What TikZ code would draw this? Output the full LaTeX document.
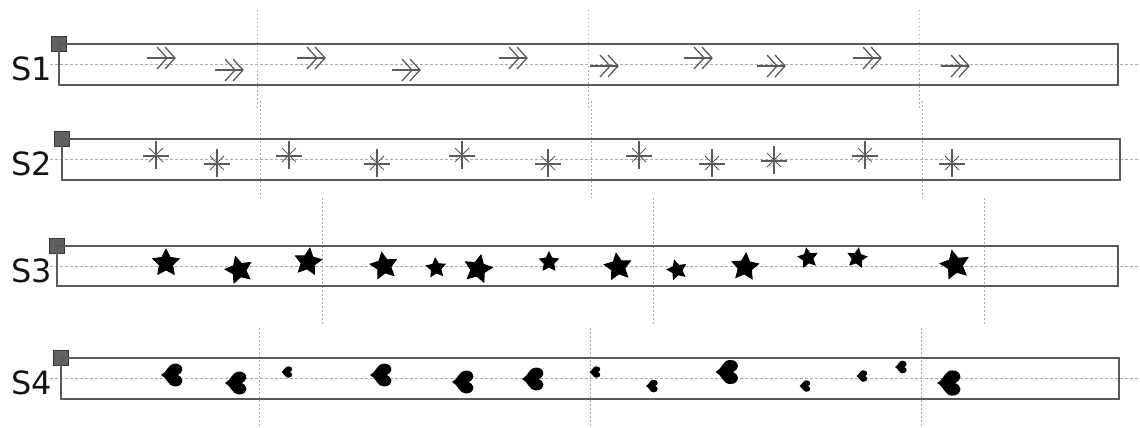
\documentclass[tikz,border=0pt]{standalone}
\usepackage{fontspec}
\setmainfont{DejaVu Sans}
\usetikzlibrary{shapes.geometric}
\definecolor{cline}{HTML}{5A5A5A}
\definecolor{cgrid}{HTML}{ABABAB}
\tikzset{
  lane/.style={draw=cline, line width=1.2pt},
  vgrid/.style={draw=cgrid, line width=0.9pt, dash pattern=on 1.5pt off 2.5pt},
  hgrid/.style={draw=cgrid, line width=0.9pt, dash pattern=on 3pt off 2pt},
  corner/.style={draw=black!78, fill=black!62, line width=0.8pt, minimum size=15pt, inner sep=0pt},
  lbl/.style={font=\fontsize{32}{38}\selectfont, text=black!92, anchor=base east, inner sep=0pt},
  ink/.style={draw=cline, line width=1.3pt},
  starmark/.style={star, star points=5, star point ratio=2.0, fill=black, draw=black, line width=0.8pt, inner sep=0pt, minimum size=#1},
  pics/dart/.style={code={
    \draw[ink] (-14,0) -- (14,0);
    \draw[ink] (-4,-11) -- (6,0) -- (-4,11);
    \draw[ink] (4,-11) -- (14,0) -- (4,11);}},
  pics/spark/.style={code={
    \draw[ink] (0,-14) -- (0,14) (-13,1) -- (13,1);
    \draw[ink, line width=1pt] (-7,-7) -- (7,7) (-7,7) -- (7,-7);}},
  pics/heartmark/.style={code={
    \fill[black, scale=#1*1.15] (-0.95,0) .. controls (-0.4,-0.25) and (-0.35,-1) .. (0.25,-1)
      .. controls (0.7,-1) and (0.9,-0.75) .. (0.9,-0.45)
      .. controls (0.9,-0.2) and (0.65,-0.1) .. (0.5,0)
      .. controls (0.65,0.1) and (0.9,0.2) .. (0.9,0.45)
      .. controls (0.9,0.75) and (0.7,1) .. (0.25,1)
      .. controls (-0.35,1) and (-0.4,0.25) .. (-0.95,0) -- cycle;}},
}
\begin{document}
\begin{tikzpicture}[x=1pt, y=-1pt]
  \useasboundingbox (0,0) rectangle (1140,428);
  % lanes: number / left / top / bottom / right / first grid line / grid from / grid to
  \foreach \n/\xa/\ya/\yb/\xb/\g/\ga/\gb in {1/59/44/85/1118/257/10/108, 2/62/139/180/1120/260/101/198,
      3/57/246/286/1118/322/198/325, 4/61/358/399/1119/259/328/428}{
    \pgfmathsetmacro\m{(\ya+\yb)/2}
    \foreach \k in {0,1,2}
      \draw[vgrid] ({\g+331*\k},\ga) -- ({\g+331*\k},\gb);
    \draw[hgrid] (50,\m) -- (1140,\m);
    \node[corner] (cor\n) at (\xa,\ya) {};
    \draw[lane] (\xa,\ya) rectangle (\xb,\yb);
    \node[lbl] (lab\n) at (52,\m+16) {S\n};
  }
  % S1
  \foreach \x/\y in {161/58, 229/70, 311/58, 406/70, 513/58, 604/66, 698/58, 771/66, 867/58, 955/66}
    \pic at (\x,\y) {dart};
  % S2
  \foreach \x/\y in {156/155, 217/163, 289/155, 377/163, 462/155, 548/163, 639/155, 712/163, 774/160, 865/155, 952/163}
    \pic at (\x,\y) {spark};
  % S3
  \foreach \x/\y/\s/\a [count=\i] in {166/263/28/0, 239/270/28/15, 308/262/28/-8, 384/266/28/10, 436/268/20/5,
      478/269/29/-12, 549/262/20/0, 618/267/28/8, 677/270/20/15, 745/267/28/-5, 808/258/20/10, 857/258/20/-10, 955/265/30/12}
    \node[starmark=\s, rotate=\a] (st\i) at (\x,\y) {};
  % S4
  \foreach \x/\y/\s in {172/375/10, 236/383/10, 287/372/5, 381/375/10, 463/382/10, 533/379/10, 595/372/5,
      652/386/5.5, 727/372/10.5, 805/386/5, 862/376/5, 901/367/5.5, 949/383/11}
    \pic at (\x,\y) {heartmark=\s};
\end{tikzpicture}
\end{document}
